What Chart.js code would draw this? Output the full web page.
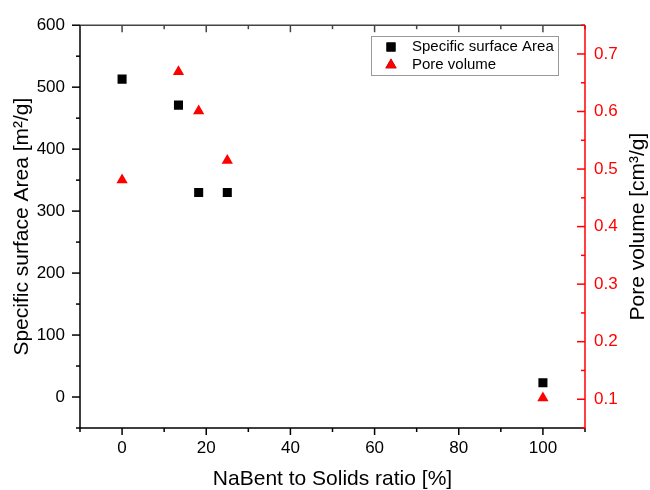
<!DOCTYPE html>
<html><head><meta charset="utf-8">
<script src="https://cdn.jsdelivr.net/npm/chart.js@4.4.1/dist/chart.umd.min.js"></script>
<style>html,body{margin:0;padding:0;background:#fff}#wrap{width:650px;height:490px}</style>
</head><body><div id="wrap"><canvas id="c" width="650" height="490"></canvas></div>
<script>
// ---- data ----
const ratio = [0, 13.4, 18.2, 25, 100];
const surfaceArea = [513, 471, 330, 330, 23];
const poreVolume = [0.481, 0.669, 0.601, 0.515, 0.102];
const seriesNames = ['Specific surface Area', 'Pore volume'];
const xTitle = 'NaBent to Solids ratio [%]';
const yTitle = 'Specific surface Area [m\u00B2/g]';
const y2Title = 'Pore volume [cm\u00B3/g]';

const FONT = '"Liberation Sans", Arial, sans-serif';
const RED = '#ff0000';

const axesPlugin = {
  id: 'axesPlugin',
  afterDraw(chart) {
    const ctx = chart.ctx, a = chart.chartArea;
    const xs = chart.scales.x, ys = chart.scales.y, y2 = chart.scales.y2;
    ctx.save();
    ctx.lineWidth = 1.5;
    // top line
    ctx.strokeStyle = '#444';
    ctx.beginPath(); ctx.moveTo(a.left, a.top); ctx.lineTo(a.right, a.top); ctx.stroke();
    // left & bottom
    ctx.strokeStyle = '#000';
    ctx.beginPath(); ctx.moveTo(a.left, a.top); ctx.lineTo(a.left, a.bottom); ctx.lineTo(a.right, a.bottom); ctx.stroke();
    // x ticks (bottom outward, top inward)
    xs.ticks.forEach(t => {
      const p = xs.getPixelForValue(t.value);
      const major = Math.abs(t.value % 20) < 1e-6;
      const L = major ? 7 : 4;
      ctx.strokeStyle = '#000';
      ctx.beginPath(); ctx.moveTo(p, a.bottom); ctx.lineTo(p, a.bottom + L); ctx.stroke();
      ctx.strokeStyle = '#444';
      ctx.beginPath(); ctx.moveTo(p, a.top); ctx.lineTo(p, a.top + L); ctx.stroke();
    });
    // left y ticks outward
    ctx.strokeStyle = '#000';
    ys.ticks.forEach(t => {
      const p = ys.getPixelForValue(t.value);
      const major = Math.abs(t.value % 100) < 1e-6;
      const L = major ? 8 : 4;
      ctx.beginPath(); ctx.moveTo(a.left, p); ctx.lineTo(a.left - L, p); ctx.stroke();
    });
    // right axis red, ticks inward
    ctx.strokeStyle = RED;
    ctx.beginPath(); ctx.moveTo(a.right, a.top); ctx.lineTo(a.right, a.bottom); ctx.stroke();
    y2.ticks.forEach(t => {
      const p = y2.getPixelForValue(t.value);
      const v10 = t.value * 10;
      const major = Math.abs(v10 - Math.round(v10)) < 1e-6;
      const L = major ? 8 : 4;
      ctx.beginPath(); ctx.moveTo(a.right, p); ctx.lineTo(a.right - L, p); ctx.stroke();
    });
    // right title, reading bottom-to-top
    ctx.fillStyle = '#000';
    ctx.font = '21px ' + FONT;
    ctx.textAlign = 'center'; ctx.textBaseline = 'middle';
    ctx.translate(y2.right - 12, (a.top + a.bottom) / 2);
    ctx.rotate(-Math.PI / 2);
    ctx.fillText(y2Title, 0, 0);
    ctx.restore();

    // legend box
    ctx.save();
    const bx = 371, by = 36, bw = 187, bh = 39;
    ctx.strokeStyle = '#999'; ctx.lineWidth = 1;
    ctx.strokeRect(bx + 0.5, by + 0.5, bw, bh);
    ctx.font = '15px ' + FONT;
    ctx.fillStyle = '#000'; ctx.textAlign = 'left'; ctx.textBaseline = 'middle';
    chart.data.datasets.forEach((ds, i) => {
      const cy = by + 11 + i * 18;
      Chart.helpers.drawPoint(ctx, {pointStyle: ds.pointStyle, radius: ds.pointRadius, borderWidth: 0}, bx + 20, cy);
      ctx.fillStyle = ds.backgroundColor;
      ctx.beginPath();
      // redraw filled marker
      ctx.restore(); ctx.save();
      ctx.fillStyle = ds.backgroundColor; ctx.strokeStyle = ds.backgroundColor;
      ctx.lineWidth = 0;
      Chart.helpers.drawPoint(ctx, {pointStyle: ds.pointStyle, radius: ds.pointRadius, borderWidth: 0}, bx + 20, cy);
      ctx.fillStyle = '#000';
      ctx.font = '15px ' + FONT; ctx.textAlign = 'left'; ctx.textBaseline = 'middle';
      ctx.fillText(ds.label, bx + 41, cy);
    });
    ctx.restore();
  }
};

new Chart(document.getElementById('c'), {
  type: 'scatter',
  data: {
    datasets: [
      { label: seriesNames[0], yAxisID: 'y',
        data: ratio.map((x, i) => ({x, y: surfaceArea[i]})),
        pointStyle: 'rect', pointRadius: 6.4, pointHoverRadius: 6.4,
        backgroundColor: '#000', borderWidth: 0, showLine: false },
      { label: seriesNames[1], yAxisID: 'y2',
        data: ratio.map((x, i) => ({x, y: poreVolume[i]})),
        pointStyle: 'triangle', pointRadius: 6.5, pointHoverRadius: 6.5,
        backgroundColor: RED, borderWidth: 0, showLine: false }
    ]
  },
  options: {
    responsive: false, animation: false, devicePixelRatio: 1,
    layout: { padding: { top: 20, left: 0, right: 0, bottom: 0 } },
    plugins: { legend: { display: false }, tooltip: { enabled: false } },
    scales: {
      x: {
        type: 'linear', position: 'bottom', min: -10, max: 110,
        grid: { display: false, drawTicks: false }, border: { display: false },
        ticks: { stepSize: 10, autoSkip: false, maxRotation: 0, padding: 10, color: '#000',
          font: { family: FONT, size: 17 },
          callback: v => (Math.abs(v % 20) < 1e-6 ? String(v) : '') },
        title: { display: true, text: xTitle, color: '#000',
          font: { family: FONT, size: 21, lineHeight: 1 }, padding: { top: 0, bottom: 0 } },
        afterFit: s => { s.height = 62; }
      },
      y: {
        type: 'linear', position: 'left', min: -50, max: 600,
        grid: { display: false, drawTicks: false }, border: { display: false },
        ticks: { stepSize: 50, autoSkip: false, padding: 15, color: '#000',
          font: { family: FONT, size: 17 },
          callback: v => (Math.abs(v % 100) < 1e-6 ? String(v) : '') },
        title: { display: true, text: yTitle, color: '#000',
          font: { family: FONT, size: 21, lineHeight: 1 }, padding: { top: 12, bottom: 0 } },
        afterFit: s => { s.width = 80; }
      },
      y2: {
        type: 'linear', position: 'right', min: 0.05, max: 0.75,
        grid: { display: false, drawTicks: false }, border: { display: false },
        ticks: { stepSize: 0.05, autoSkip: false, padding: 9, color: RED,
          font: { family: FONT, size: 17 },
          callback: v => { const t = v * 10; return Math.abs(t - Math.round(t)) < 1e-6 && Math.round(t) >= 1 ? (Math.round(t) / 10).toFixed(1) : ''; } },
        afterFit: s => { s.width = 65; }
      }
    }
  },
  plugins: [axesPlugin]
});
</script>
</body></html>
